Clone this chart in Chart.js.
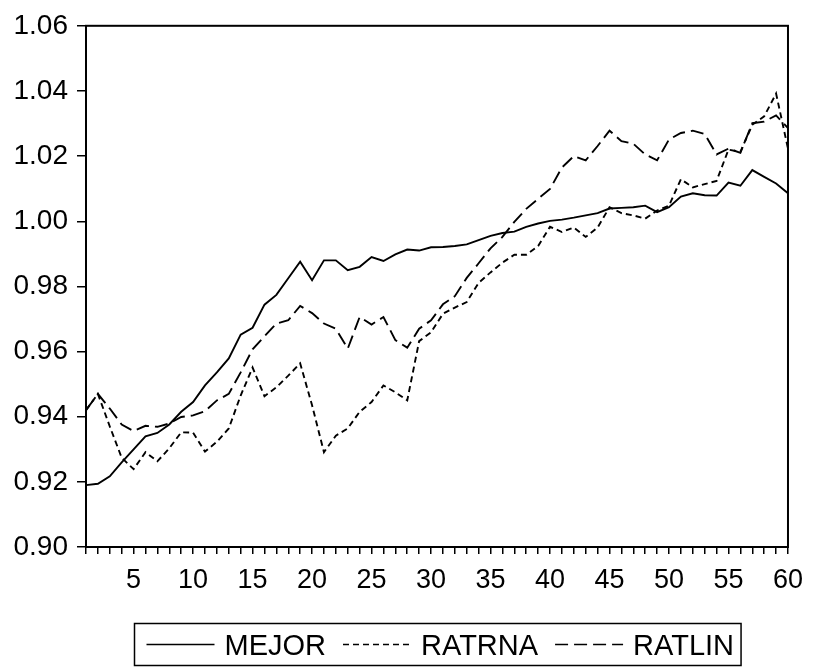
<!DOCTYPE html>
<html>
<head>
<meta charset="utf-8">
<script src="https://cdn.jsdelivr.net/npm/chart.js@4.4.1/dist/chart.umd.min.js"></script>
<style>
  html, body { margin: 0; padding: 0; background: #fff; }
  canvas { display: block; }
</style>
</head>
<body>
<canvas id="chart" width="813" height="667"></canvas>
<script>
// Period index (x axis)
const periods = [
  1, 2, 3, 4, 5, 6, 7, 8, 9, 10,
  11, 12, 13, 14, 15, 16, 17, 18, 19, 20,
  21, 22, 23, 24, 25, 26, 27, 28, 29, 30,
  31, 32, 33, 34, 35, 36, 37, 38, 39, 40,
  41, 42, 43, 44, 45, 46, 47, 48, 49, 50,
  51, 52, 53, 54, 55, 56, 57, 58, 59, 60
];

// Series names as shown in the legend
const seriesNames = ['MEJOR', 'RATRNA', 'RATLIN'];

const mejor = [
  0.9190, 0.9194, 0.9217, 0.9260, 0.9300, 0.9340, 0.9350, 0.9376, 0.9415, 0.9445,
  0.9496, 0.9536, 0.9579, 0.9652, 0.9673, 0.9744, 0.9774, 0.9825, 0.9876, 0.9819,
  0.9880, 0.9880, 0.9850, 0.9860, 0.9890, 0.9878, 0.9898, 0.9913, 0.9910, 0.9920,
  0.9921, 0.9924, 0.9929, 0.9942, 0.9955, 0.9964, 0.9968, 0.9983, 0.9993, 1.0001,
  1.0005, 1.0011, 1.0018, 1.0025, 1.0039, 1.0041, 1.0043, 1.0048, 1.0028, 1.0043,
  1.0076, 1.0086, 1.0080, 1.0079, 1.0119, 1.0109, 1.0157, 1.0136, 1.0116, 1.0086
];

const ratrna = [
  0.9420, 0.9470, 0.9370, 0.9274, 0.9239, 0.9291, 0.9263, 0.9303, 0.9352, 0.9351,
  0.9293, 0.9323, 0.9364, 0.9465, 0.9551, 0.9463, 0.9490, 0.9526, 0.9564, 0.9435,
  0.9291, 0.9342, 0.9364, 0.9415, 0.9445, 0.9496, 0.9475, 0.9450, 0.9632, 0.9659,
  0.9716, 0.9735, 0.9752, 0.9811, 0.9843, 0.9873, 0.9897, 0.9897, 0.9924, 0.9983,
  0.9967, 0.9981, 0.9952, 0.9981, 1.0043, 1.0025, 1.0018, 1.0008, 1.0033, 1.0048,
  1.0129, 1.0104, 1.0114, 1.0124, 1.0220, 1.0213, 1.0296, 1.0322, 1.0392, 1.0223
];

const ratlin = [
  0.9420, 0.9470, 0.9425, 0.9376, 0.9356, 0.9372, 0.9369, 0.9379, 0.9399, 0.9404,
  0.9417, 0.9450, 0.9470, 0.9536, 0.9607, 0.9647, 0.9686, 0.9696, 0.9740, 0.9718,
  0.9686, 0.9670, 0.9609, 0.9706, 0.9683, 0.9706, 0.9635, 0.9612, 0.9670, 0.9696,
  0.9745, 0.9770, 0.9826, 0.9871, 0.9917, 0.9952, 0.9998, 1.0038, 1.0069, 1.0099,
  1.0165, 1.0200, 1.0187, 1.0231, 1.0278, 1.0246, 1.0238, 1.0205, 1.0187, 1.0251,
  1.0271, 1.0278, 1.0268, 1.0205, 1.0223, 1.0210, 1.0301, 1.0306, 1.0325, 1.0286
];

// Y-axis tick positions
const yTickValues = [0.90, 0.92, 0.94, 0.96, 0.98, 1.00, 1.02, 1.04, 1.06];
// X-axis labelled periods
const xTickLabels = [5, 10, 15, 20, 25, 30, 35, 40, 45, 50, 55, 60];

const FONT = '"Liberation Sans", Arial, Helvetica, sans-serif';
const dashes = [[], [6, 4], [13, 6]];

// Frame around the plot plus a boxed legend underneath
const frameLegend = {
  id: 'frameLegend',
  afterDatasetsDraw(chart) {
    const { ctx, chartArea: a } = chart;
    ctx.save();
    ctx.strokeStyle = '#000';
    ctx.lineWidth = 2;
    ctx.setLineDash([]);
    ctx.strokeRect(a.left, a.top, a.right - a.left, a.bottom - a.top);
    ctx.restore();
  },
  afterDraw(chart) {
    const { ctx, chartArea: a } = chart;
    ctx.save();
    ctx.font = '29px ' + FONT;
    const sample = 68, gapText = 10, gapItem = 17, padL = 12, padR = 7;
    const widths = chart.data.datasets.map(d => ctx.measureText(d.label).width);
    let boxW = padL + padR + gapItem * (widths.length - 1);
    widths.forEach(w => { boxW += sample + gapText + w; });
    const boxX = Math.round((a.left + a.right) / 2 - boxW / 2) + 0.5;
    const boxY = 623.5, boxH = 42;
    ctx.strokeStyle = '#000';
    ctx.lineWidth = 1.5;
    ctx.strokeRect(boxX, boxY, boxW, boxH);
    const midY = boxY + boxH / 2;
    let x = boxX + padL;
    chart.data.datasets.forEach((d, i) => {
      ctx.beginPath();
      ctx.setLineDash(d.borderDash || []);
      ctx.lineWidth = 1.6;
      ctx.moveTo(x, midY);
      ctx.lineTo(x + sample, midY);
      ctx.stroke();
      ctx.setLineDash([]);
      x += sample + gapText;
      ctx.fillStyle = '#000';
      ctx.textBaseline = 'alphabetic';
      ctx.textAlign = 'left';
      ctx.fillText(d.label, x, midY + 10.5);
      x += widths[i] + gapItem;
    });
    ctx.restore();
  }
};

new Chart(document.getElementById('chart'), {
  type: 'line',
  data: {
    labels: periods,
    datasets: [mejor, ratrna, ratlin].map((vals, i) => ({
      label: seriesNames[i],
      data: vals,
      borderColor: '#000',
      backgroundColor: '#000',
      borderWidth: 1.9,
      borderDash: dashes[i],
      pointRadius: 0,
      tension: 0,
      fill: false
    }))
  },
  options: {
    responsive: false,
    animation: false,
    devicePixelRatio: 1,
    layout: { padding: { top: 20, right: 20, left: 0, bottom: 0 } },
    plugins: {
      legend: { display: false },
      tooltip: { enabled: false }
    },
    scales: {
      x: {
        type: 'category',
        offset: false,
        border: { display: false },
        grid: {
          drawOnChartArea: false,
          drawTicks: true,
          tickLength: 7,
          color: '#000',
          lineWidth: 1.5
        },
        ticks: {
          autoSkip: false,
          maxRotation: 0,
          minRotation: 0,
          padding: 10,
          color: '#000',
          font: { family: FONT, size: 27 },
          callback: (v, i) => xTickLabels.includes(periods[i]) ? String(periods[i]) : ''
        },
        afterFit(scale) { scale.height = 120; }
      },
      y: {
        min: 0.90,
        max: 1.06,
        border: { display: false },
        grid: {
          drawOnChartArea: false,
          drawTicks: true,
          tickLength: 9,
          color: '#000',
          lineWidth: 1.5
        },
        ticks: {
          padding: 9,
          color: '#000',
          font: { family: FONT, size: 28 },
          callback: v => Number(v).toFixed(2)
        },
        afterBuildTicks(scale) { scale.ticks = yTickValues.map(v => ({ value: v })); },
        afterFit(scale) { scale.width = 86; }
      }
    }
  },
  plugins: [frameLegend]
});
</script>
</body>
</html>
